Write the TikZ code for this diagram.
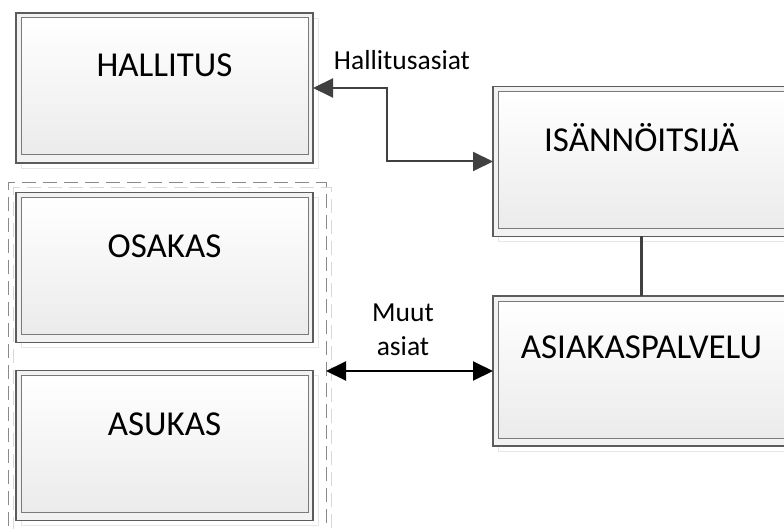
\documentclass[tikz,border=0pt]{standalone}
\usepackage{fontspec}
\setmainfont{Carlito}
\usetikzlibrary{arrows.meta}

\definecolor{frameedge}{HTML}{5C5C5C}
\definecolor{frameband}{HTML}{F2F2F2}
\definecolor{inneredge}{HTML}{7A7A7A}
\definecolor{innerlow}{HTML}{EBEBEB}
\definecolor{shadowline}{HTML}{E6E6E6}
\definecolor{groupedge}{HTML}{8A8A8A}
\definecolor{groupshadow}{HTML}{D8D8D8}
\definecolor{linkgray}{HTML}{404040}

\tikzset{
  shadowframe/.style={draw=shadowline, line width=0.8pt, minimum width=297pt,
    minimum height=150pt, inner sep=0pt, outer sep=0pt},
  outerframe/.style={draw=frameedge, fill=frameband, line width=1.4pt,
    minimum width=297pt, minimum height=150pt, inner sep=0pt, outer sep=0pt},
  innerframe/.style={draw=inneredge, line width=1pt, top color=white,
    bottom color=innerlow, minimum width=287pt, minimum height=137pt,
    inner sep=0pt, outer sep=0pt},
  boxtext/.style={font=\fontsize{35}{40}\selectfont, inner sep=0pt, anchor=base},
  linktext/.style={font=\fontsize{27.5}{33}\selectfont, inner sep=0pt, anchor=base},
  groupframe/.style={draw=groupedge, line width=1pt, dash pattern=on 14pt off 7pt,
    minimum width=318pt, minimum height=358pt, inner sep=0pt, outer sep=0pt},
  groupshade/.style={draw=groupshadow, line width=1pt, dash pattern=on 14pt off 7pt,
    minimum width=318pt, minimum height=358pt, inner sep=0pt, outer sep=0pt},
  tip/.style={-{Triangle[length=20pt,width=19pt]}},
}

% #1 name, #2 x, #3 y (downwards), #4 caption, #5 baseline above centre
\newcommand\unitbox[5]{%
  \node[shadowframe] (#1-shadow) at ([xshift=5pt,yshift=-5pt]#2,#3) {};
  \node[outerframe] (#1) at (#2,#3) {};
  \node[innerframe] (#1-inner) at ([yshift=1.5pt]#2,#3) {};
  \node[boxtext] (#1-text) at ([yshift=#5pt]#1.center) {#4};
}

\begin{document}
\begin{tikzpicture}[x=1pt,y=-1pt]
  \clip (0,0) rectangle (784,529);
  \fill[white] (0,0) rectangle (784,529);

  % residents group (dashed)
  \node[groupshade] (residents-shadow) at (172,367) {};
  \node[groupframe] (residents) at (167,362) {};

  \unitbox{hall}{164.5}{88}{HALLITUS}{11}
  \unitbox{owner}{164.5}{267.5}{OSAKAS}{9.5}
  \unitbox{tenant}{164.5}{445.5}{ASUKAS}{10.5}
  \unitbox{manager}{641.5}{161.5}{ISÄNNÖITSIJÄ}{10}
  \unitbox{service}{641.5}{371}{ASIAKASPALVELU}{13}

  % board matters between board and manager
  \coordinate (bend) at (387,120);
  \draw[linkgray, line width=2pt, tip] (bend) |- (hall.east);
  \draw[linkgray, line width=2pt, tip] (bend) |- (manager.west);
  \node[linktext] (boardlabel) at (402,70) {Hallitusasiat};

  % manager to customer service
  \draw[linkgray, line width=3pt] (manager.south) -- (service.north);

  % other matters between residents and customer service
  \draw[black, line width=2pt, {Triangle[length=20pt,width=19pt]}-{Triangle[length=20pt,width=19pt]}]
    (service.west -| residents.east) -- (service.west);
  \node[linktext] (otherlabel1) at (403,321.5) {Muut};
  \node[linktext] (otherlabel2) at (403,355) {asiat};
\end{tikzpicture}
\end{document}
